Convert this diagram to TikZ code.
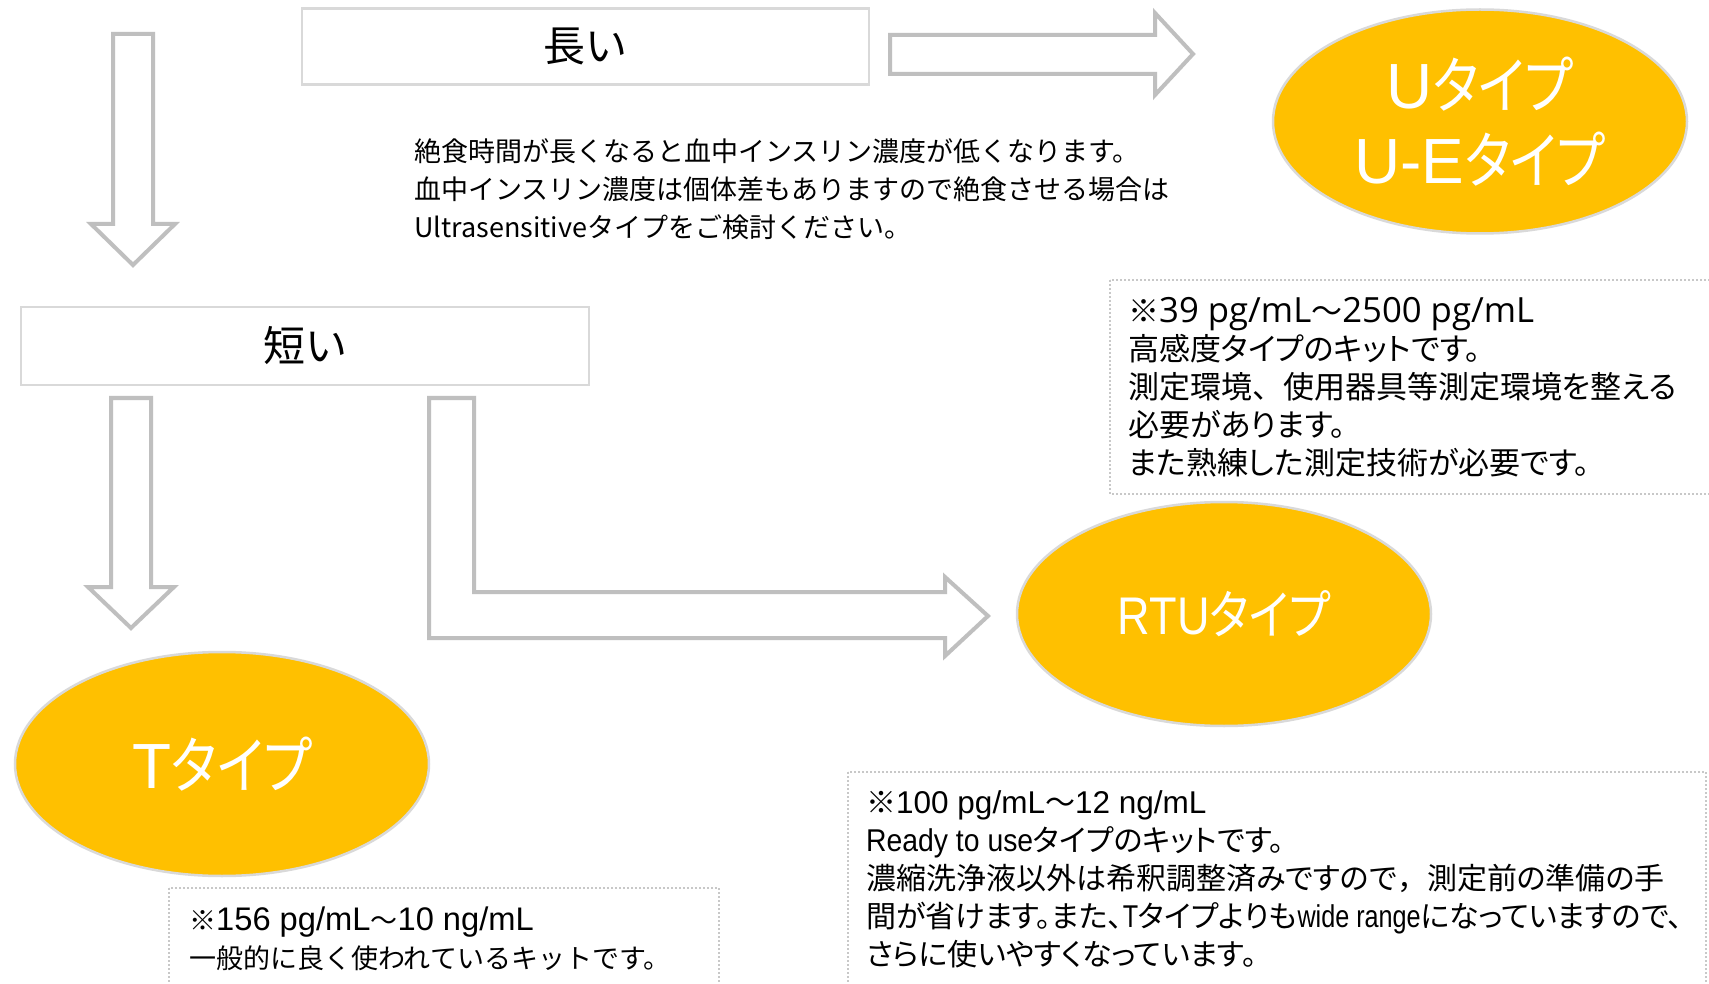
\documentclass[tikz,border=0pt]{standalone}
\usepackage{fontspec}
\setmainfont{Noto Sans CJK JP}
\newfontfamily\jpprop[RawFeature=+palt]{Noto Sans CJK JP}
\newfontfamily\elljp[FakeStretch=0.85,RawFeature=+palt]{Noto Sans CJK JP}
\newfontfamily\elllat[Scale=1.03]{Liberation Sans}
\newfontfamily\elllatn[FakeStretch=0.85]{Liberation Sans}
\newfontfamily\notelatA[Scale=1.12]{Open Sans}
\newfontfamily\notelatB[Scale=1.21]{Liberation Sans}
\newfontfamily\notelatC[FakeStretch=0.9,Scale=1.05]{Liberation Sans}
\newfontfamily\notelatE[FakeStretch=0.8,Scale=1.05]{Liberation Sans}
\newfontfamily\notelatD[Scale=1.05]{Liberation Sans}
\usetikzlibrary{shapes.geometric}
\definecolor{gold}{HTML}{FFC000}
\definecolor{arrowgray}{HTML}{BFBFBF}
\definecolor{boxgray}{HTML}{D9D9D9}
\definecolor{dotgray}{HTML}{C8C8C8}
\begin{document}
\begin{tikzpicture}[x=1pt,y=-1pt,
  typeell/.style={ellipse, draw=boxgray, line width=2.5pt, fill=gold, minimum width=414pt, minimum height=224pt, text=white, font=\elljp\fontsize{62}{75}\selectfont, align=center, inner sep=0pt},
  timebox/.style={draw=boxgray, line width=2.5pt, minimum width=567pt, minimum height=76pt, font=\fontsize{42}{48}\selectfont, inner sep=0pt},
  blockarrow/.style={draw=arrowgray, line width=4pt, fill=white, line join=miter},
  notebox/.style={draw=dotgray, line width=2pt, dash pattern=on 2pt off 2pt},
  notetext/.style={anchor=north west, align=left, inner sep=0pt, text=black}]
\useasboundingbox (0,0) rectangle (1709,984);
\fill[white] (0,0) rectangle (1709,984);
% time boxes
\node[timebox] (long) at (585.5,46.5) {長い};
\node[timebox, minimum width=568pt, minimum height=78pt] (short) at (305,346) {短い};
% block arrows
\draw[blockarrow] (113,34) -- (153,34) -- (153,224) -- (175,224) -- (133,265) -- (91,224) -- (113,224) -- cycle;
\draw[blockarrow] (890,35) -- (1155,35) -- (1155,13) -- (1193,54) -- (1155,95) -- (1155,74) -- (890,74) -- cycle;
\draw[blockarrow] (111,398) -- (151,398) -- (151,587) -- (174,587) -- (131,628) -- (88,587) -- (111,587) -- cycle;
\draw[blockarrow] (429,398) -- (474,398) -- (474,592) -- (945,592) -- (945,577) -- (988,616) -- (945,656) -- (945,638) -- (429,638) -- cycle;
% type ellipses
\node[typeell] (U) at (1480,121.5) {{\elllat U}タイプ\\{\elllat U-E}タイプ};
\node[typeell, font=\elljp\fontsize{53}{60}\selectfont] (RTU) at (1224,614) {{\elllatn RTU}タイプ};
\node[typeell] (T) at (222,764) {{\elllat T}タイプ};
% explanation
\node[notetext, font=\fontsize{27}{38}\selectfont] (expl) at (414,138) {絶食時間が長くなると血中インスリン濃度が低くなります。\\血中インスリン濃度は個体差もありますので絶食させる場合は\\Ultrasensitiveタイプをご検討ください。};
% note boxes
\draw[notebox] (1110,280) rectangle (1712,494);
\node[notetext, font=\jpprop\fontsize{31}{38}\selectfont] (noteU) at (1128,297) {※{\notelatA 39 pg/mL}～{\notelatA 2500 pg/mL}\\高感度タイプのキットです。\\測定環境{\rmfamily 、}使用器具等測定環境を整える\\必要があります。\\また熟練した測定技術が必要です。};
\draw[notebox] (848,772) rectangle (1706,990);
\node[notetext, font=\jpprop\fontsize{30}{38}\selectfont] (noteRTU) at (866,790) {※{\notelatD 100 pg/mL}～{\notelatD 12 ng/mL}\\{\notelatC Ready to use}タイプのキットです。\\濃縮洗浄液以外は希釈調整済みですので{\rmfamily ，}測定前の準備の手\\間が省けます。また、{\notelatE T}タイプよりも{\notelatE wide range}になっていますので、\\さらに使いやすくなっています。};
\draw[notebox] (169,888) rectangle (719,990);
\node[notetext, font=\fontsize{27}{38}\selectfont] (noteT) at (189,907) {※{\notelatB 156 pg/mL}～{\notelatB 10 ng/mL}\\一般的に良く使われているキットです。};
\end{tikzpicture}
\end{document}
